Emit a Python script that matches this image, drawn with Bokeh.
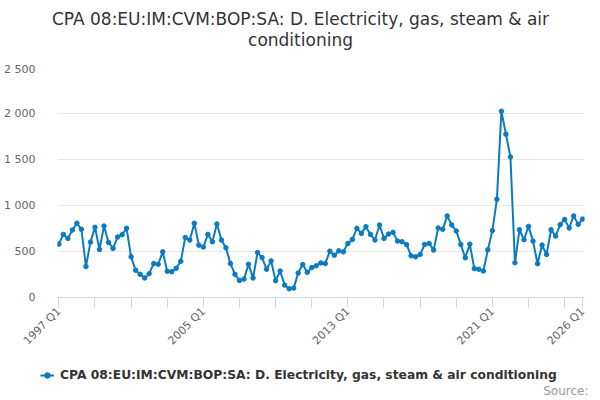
import math

from bokeh.embed import file_html
from bokeh.layouts import column
from bokeh.models import ColumnDataSource, FixedTicker, Label, Legend, LegendItem, Range1d
from bokeh.plotting import figure
from bokeh.resources import INLINE

title_lines = ["CPA 08:EU:IM:CVM:BOP:SA: D. Electricity, gas, steam & air", "conditioning"]
series_name = "CPA 08:EU:IM:CVM:BOP:SA: D. Electricity, gas, steam & air conditioning"

# quarterly values, 1997 Q1 .. 2026 Q1
values = [
    580, 686, 642, 734,    # 1997
    807, 741, 336, 602,    # 1998
    763, 522, 777, 599,    # 1999
    533, 657, 683, 752,    # 2000
    442, 296, 252, 212,    # 2001
    259, 369, 361, 496,    # 2002
    285, 281, 318, 394,    # 2003
    653, 624, 807, 569,    # 2004
    548, 686, 606, 800,    # 2005
    624, 540, 369, 252,    # 2006
    186, 200, 361, 212,    # 2007
    489, 434, 307, 398,    # 2008
    183, 288, 135, 95,     # 2009
    102, 266, 358, 274,    # 2010
    325, 345, 376, 369,    # 2011
    504, 460, 507, 496,    # 2012
    588, 631, 752, 697,    # 2013
    770, 686, 624, 788,    # 2014
    642, 690, 708, 613,    # 2015
    606, 575, 453, 442,    # 2016
    467, 577, 588, 515,    # 2017
    756, 741, 887, 788,    # 2018
    723, 577, 431, 580,    # 2019
    314, 307, 288, 518,    # 2020
    728, 1067, 2025, 1775,  # 2021
    1528, 378, 737, 628,   # 2022
    773, 613, 367, 570,    # 2023
    468, 737, 668, 791,    # 2024
    849, 755, 886, 795,    # 2025
    853,                   # 2026
]
quarters = [f"{1997 + i // 4} Q{i % 4 + 1}" for i in range(len(values))]

x_ticks = list(range(0, 113, 8)) + [116]
x_tick_labels = {0: "1997 Q1", 32: "2005 Q1", 64: "2013 Q1", 96: "2021 Q1", 116: "2026 Q1"}
y_ticks = [0, 500, 1000, 1500, 2000, 2500]
y_tick_labels = ["0", "500", "1 000", "1 500", "2 000", "2 500"]

FONT = "DejaVu Sans"
BLUE = "#0b7bc1"
W = 600


def blank_fig(height):
    f = figure(width=W, height=height, output_backend="svg", toolbar_location=None,
               title=None, x_axis_location=None, y_axis_location=None,
               x_range=Range1d(0, W), y_range=Range1d(0, height),
               min_border=0, frame_align=False)
    f.outline_line_color = None
    f.grid.visible = False
    return f


# header with the two title lines
header = blank_fig(62)
for yy, txt in zip([44, 23], title_lines):
    header.add_layout(Label(x=300, y=yy, x_units="screen", y_units="screen", text=txt,
                            text_align="center", text_baseline="middle", text_font=FONT,
                            text_font_size="17px", text_color="#333333"))

# main chart
source = ColumnDataSource(data=dict(x=list(range(len(values))), y=values, q=quarters))

p = figure(
    frame_width=527, frame_height=230, title=None,
    output_backend="svg", toolbar_location=None,
    x_range=Range1d(-0.3, 116.4), y_range=Range1d(0, 2500),
    min_border_left=57, min_border_right=16, min_border_top=5, min_border_bottom=62,
)
p.outline_line_color = None

p.line("x", "y", source=source, line_width=2, color=BLUE)
p.scatter("x", "y", source=source, size=4.5, color=BLUE)

xa = p.xaxis[0]
xa.ticker = FixedTicker(ticks=x_ticks)
xa.major_label_overrides = {t: x_tick_labels.get(t, "") for t in x_ticks}
xa.major_label_orientation = math.pi / 4
xa.axis_line_color = "#ccd6eb"
xa.major_tick_line_color = "#ccd6eb"
xa.major_tick_out = 10
xa.major_tick_in = 0
xa.minor_tick_line_color = None
xa.major_label_text_font = FONT
xa.major_label_text_font_size = "11px"
xa.major_label_text_color = "#666666"
xa.major_label_standoff = 2

ya = p.yaxis[0]
ya.ticker = FixedTicker(ticks=y_ticks)
ya.major_label_overrides = dict(zip(y_ticks, y_tick_labels))
ya.axis_line_color = None
ya.major_tick_line_color = None
ya.minor_tick_line_color = None
ya.major_label_text_font = FONT
ya.major_label_text_font_size = "11px"
ya.major_label_text_color = "#666666"
ya.major_label_standoff = 16

p.xgrid.grid_line_color = None
p.ygrid.grid_line_color = "#e6e6e6"

# footer with legend and source note; the key renderers share the data
# but every value lies above this strip's tiny y range, so only the key shows
footer = blank_fig(41)
key_line = footer.line("x", "y", source=source, line_width=2, color=BLUE)
key_dot = footer.scatter("x", "y", source=source, size=4.5, color=BLUE)
legend = Legend(items=[LegendItem(label=series_name, renderers=[key_line, key_dot])],
                location=(40, 17), orientation="horizontal")
legend.label_text_font = FONT
legend.label_text_font_size = "12.3px"
legend.label_text_font_style = "bold"
legend.label_text_color = "#333333"
legend.border_line_color = None
legend.background_fill_alpha = 0
legend.glyph_width = 14
legend.glyph_height = 16
legend.label_height = 16
legend.label_standoff = 6
legend.padding = 2
legend.margin = 0
footer.add_layout(legend)
footer.add_layout(Label(x=588, y=10, x_units="screen", y_units="screen", text="Source:",
                        text_align="right", text_baseline="middle", text_font=FONT,
                        text_font_size="12px", text_color="#999999"))

page = column(header, p, footer, spacing=0)
open("out.html", "w").write(file_html(page, INLINE))
